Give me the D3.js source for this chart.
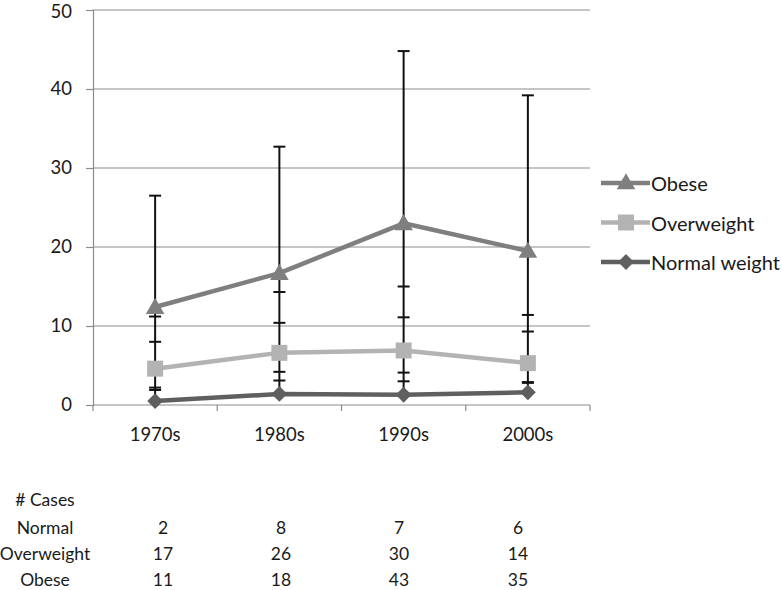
<!DOCTYPE html>
<html>
<head>
<meta charset="utf-8">
<script src="https://cdnjs.cloudflare.com/ajax/libs/d3/7.8.5/d3.min.js"></script>
<style>
  body { margin: 0; background: #fff; }
  svg text { font-family: Lato, "Liberation Sans", sans-serif; fill: #1a1a1a; }
</style>
</head>
<body>
<svg id="chart" width="782" height="590"></svg>
<script>
// decades on the x axis
var categories = ["1970s", "1980s", "1990s", "2000s"];
var yTicks = [0, 10, 20, 30, 40, 50];

// series means
var obese = [12.4, 16.7, 23.0, 19.5];
var overweight = [4.6, 6.6, 6.9, 5.3];
var normalWeight = [0.5, 1.4, 1.3, 1.6];

// error bar ends
var obeseHigh = [26.5, 32.7, 44.8, 39.2];
var obeseLow = [11.2, 14.3, 15.0, 11.4];
var overweightHigh = [8.0, 10.4, 11.1, 9.3];
var overweightLow = [2.2, 4.2, 4.1, 2.9];
var normalHigh = [1.9, 3.1, 3.0, 2.8];
var normalLow = [-0.8, -0.4, -0.5, -0.4];

// case counts table
var caseRows = ["Normal", "Overweight", "Obese"];
var casesNormal = [2, 8, 7, 6];
var casesOverweight = [17, 26, 30, 14];
var casesObese = [11, 18, 43, 35];

var series = [
    {name: "Obese", values: obese, high: obeseHigh, low: obeseLow, color: "#7f7f7f", symbol: "triangle"},
    {name: "Overweight", values: overweight, high: overweightHigh, low: overweightLow, color: "#b3b3b3", symbol: "square"},
    {name: "Normal weight", values: normalWeight, high: normalHigh, low: normalLow, color: "#5f5f5f", symbol: "diamond"}
];

var svg = d3.select("#chart");
var x = d3.scaleBand().domain(categories).range([93, 590]);
var y = d3.scaleLinear().domain([0, 50]).range([405, 10]);
var cx = function (c) { return x(c) + x.bandwidth() / 2; };

// gridlines
svg.append("g").selectAll("line").data(yTicks.filter(function (t) { return t > 0; }))
    .enter().append("line")
    .attr("x1", 93).attr("x2", 590)
    .attr("y1", function (d) { return y(d); }).attr("y2", function (d) { return y(d); })
    .attr("stroke", "#8c8c8c").attr("stroke-width", 1.2);

// y axis
var yAxis = svg.append("g").attr("transform", "translate(93,0)")
    .call(d3.axisLeft(y).tickValues(yTicks).tickSize(7).tickPadding(14));
yAxis.select(".domain").attr("stroke", "#8c8c8c").attr("stroke-width", 1.2);
yAxis.selectAll(".tick line").attr("stroke", "#8c8c8c").attr("stroke-width", 1.2);
yAxis.selectAll("text").style("font-size", "18.5px").style("font-family", "Lato, sans-serif").attr("fill", "#1a1a1a")
    .attr("dy", function (d) { return d == 50 ? "0.4em" : "0.32em"; });
svg.append("line").attr("x1", 93).attr("x2", 93).attr("y1", y(0)).attr("y2", y(0) + 6)
    .attr("stroke", "#8c8c8c").attr("stroke-width", 1.2);

// x axis
svg.append("line").attr("x1", 93).attr("x2", 590).attr("y1", y(0)).attr("y2", y(0))
    .attr("stroke", "#8c8c8c").attr("stroke-width", 1.2);
svg.append("g").selectAll("line").data(categories)
    .enter().append("line")
    .attr("x1", function (d) { return x(d) + x.bandwidth(); })
    .attr("x2", function (d) { return x(d) + x.bandwidth(); })
    .attr("y1", y(0)).attr("y2", y(0) + 6)
    .attr("stroke", "#8c8c8c").attr("stroke-width", 1.2);
svg.append("g").selectAll("text").data(categories)
    .enter().append("text")
    .attr("x", cx).attr("y", 434)
    .attr("text-anchor", "middle").attr("dominant-baseline", "central")
    .style("font-size", "18.5px")
    .text(function (d) { return d; });

// series lines
var line = d3.line().x(function (d, i) { return cx(categories[i]); }).y(function (d) { return y(d); });
series.forEach(function (s) {
    svg.append("path").datum(s.values)
        .attr("d", line).attr("fill", "none")
        .attr("stroke", s.color).attr("stroke-width", 4.5).attr("stroke-linejoin", "round");
});

// error bars: the stems overlap into one line down to the lowest visible end
var capW = 6;
categories.forEach(function (c, i) {
    var g = svg.append("g");
    var top = d3.max(series, function (s) { return s.high[i]; });
    var bottom = Math.max(0, d3.min(series, function (s) { return s.values[i]; }));
    g.append("line").attr("x1", cx(c)).attr("x2", cx(c)).attr("y1", y(top)).attr("y2", y(bottom))
        .attr("stroke", "#111").attr("stroke-width", 2);
    series.forEach(function (s) {
        [s.high[i], s.low[i]].forEach(function (v) {
            if (v < 0) return;
            g.append("line").attr("x1", cx(c) - capW).attr("x2", cx(c) + capW).attr("y1", y(v)).attr("y2", y(v))
                .attr("stroke", "#111").attr("stroke-width", 2);
        });
    });
});

function markerPath(kind) {
    if (kind == "triangle") return d3.symbol().type(d3.symbolTriangle).size(150)();
    if (kind == "square") return d3.symbol().type(d3.symbolSquare).size(256)();
    return d3.symbol().type(d3.symbolSquare).size(125)();
}

// markers
series.forEach(function (s) {
    svg.append("g").selectAll("path").data(s.values)
        .enter().append("path")
        .attr("d", markerPath(s.symbol))
        .attr("transform", function (d, i) {
            var t = "translate(" + cx(categories[i]) + "," + (y(d) + (s.symbol == "triangle" ? 1.5 : 0)) + ")";
            return s.symbol == "diamond" ? t + " rotate(45)" : t;
        })
        .attr("fill", s.color);
});

// legend
var legend = svg.append("g");
series.forEach(function (s, i) {
    var ly = 183 + i * 39.5;
    legend.append("line").attr("x1", 601).attr("x2", 650).attr("y1", ly).attr("y2", ly)
        .attr("stroke", s.color).attr("stroke-width", 4.5);
    legend.append("path").attr("d", markerPath(s.symbol))
        .attr("transform", "translate(626," + (ly + (s.symbol == "triangle" ? 1 : 0)) + ")" + (s.symbol == "diamond" ? " rotate(45)" : ""))
        .attr("fill", s.color);
    legend.append("text").attr("x", 651).attr("y", ly)
        .attr("dominant-baseline", "central").style("font-size", "20px")
        .text(s.name);
});

// cases table
var tableCols = [163, 281, 399, 518];
var tableLabelX = 45;
var rowsY = [499, 527, 553, 579];
var caseValues = [casesNormal, casesOverweight, casesObese];
svg.append("text").attr("x", tableLabelX).attr("y", rowsY[0])
    .attr("text-anchor", "middle").attr("dominant-baseline", "central").style("font-size", "17.5px")
    .text("# Cases");
caseRows.forEach(function (r, j) {
    svg.append("text").attr("x", tableLabelX).attr("y", rowsY[j + 1])
        .attr("text-anchor", "middle").attr("dominant-baseline", "central").style("font-size", "17.5px")
        .text(r);
    caseValues[j].forEach(function (v, i) {
        svg.append("text").attr("x", tableCols[i]).attr("y", rowsY[j + 1])
            .attr("text-anchor", "middle").attr("dominant-baseline", "central").style("font-size", "17.5px")
            .text(v);
    });
});
</script>
</body>
</html>
